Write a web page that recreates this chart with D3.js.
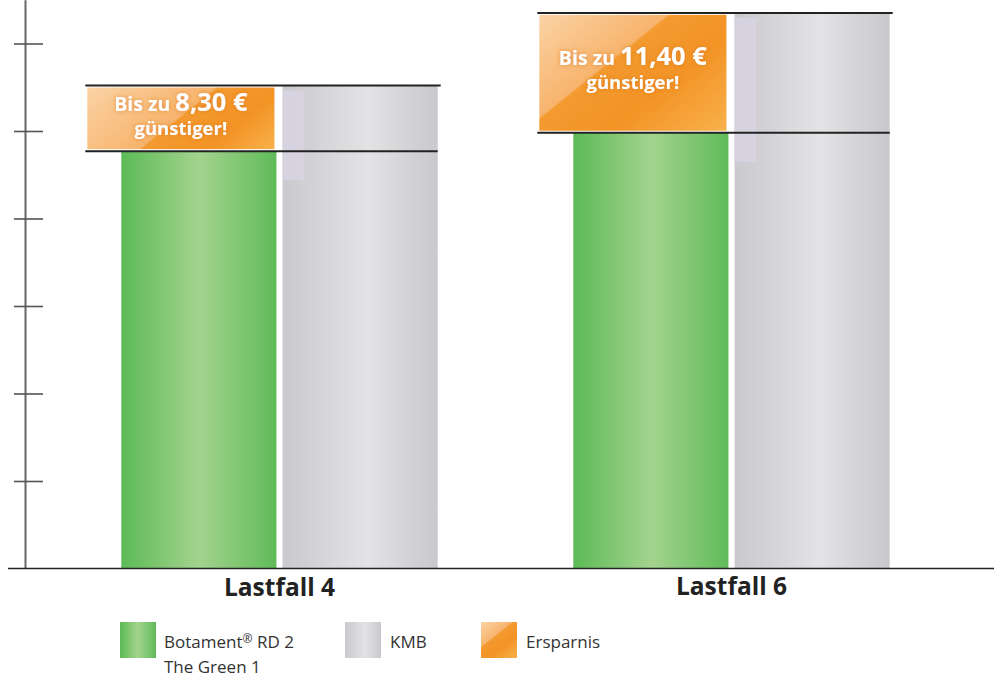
<!DOCTYPE html>
<html>
<head>
<meta charset="utf-8">
<script src="https://cdn.jsdelivr.net/npm/d3@7"></script>
<style>
  body { margin: 0; background: #fff; }
  svg { display: block; font-family: "Open Sans", "Noto Sans", sans-serif; }
</style>
</head>
<body>
<div id="chart"></div>
<script>
// chart values (units: axis ticks, no labels on the axis)
var categories = ["Lastfall 4", "Lastfall 6"];
var greenValues = [4.77, 4.98];   // Botament RD 2 The Green 1
var grayValues = [5.52, 6.35];    // KMB
var savingLabels = ["8,30", "11,40"];
var yTicks = [1, 2, 3, 4, 5, 6];
var legendLabels = [["Botament", "® RD 2", "The Green 1"], ["KMB"], ["Ersparnis"]];

var W = 994, H = 677;
var svg = d3.select("#chart").append("svg")
	.attr("width", W)
	.attr("height", H);
var defs = svg.append("defs");

// scales
var y = d3.scaleLinear().domain([0, 6.5]).range([568.5, -0.25]);
var x0 = d3.scaleBand().domain(categories).range([53.5, 957.5]).paddingInner(0.3).paddingOuter(0.15);
var x1 = d3.scaleBand().domain(["green", "gray"]).range([0, x0.bandwidth()]).paddingInner(0.038);

// gradients
function hGrad(id, stops) {
	var g = defs.append("linearGradient").attr("id", id)
		.attr("x1", 0).attr("y1", 0).attr("x2", 1).attr("y2", 0);
	stops.forEach(function(s) {
		g.append("stop").attr("offset", s[0]).attr("stop-color", s[1]);
	});
}
hGrad("gGreen", [[0, "#5cba56"], [0.5, "#a3d38e"], [1, "#60bb59"]]);
hGrad("gGray", [[0, "#c9c9ce"], [0.55, "#e3e3e5"], [1, "#c8c8cd"]]);

// glossy orange, light corner cut off by a diagonal edge
// (coordinates are in the local space of the element using it)
function orangeGrad(id, bx, by, bw, bh, edge) {
	var nx = 0.625, ny = 0.78;
	var L = bw * nx + bh * ny;
	var t = edge / L;
	var g = defs.append("linearGradient").attr("id", id)
		.attr("gradientUnits", "userSpaceOnUse")
		.attr("x1", bx).attr("y1", by)
		.attr("x2", bx + L * nx).attr("y2", by + L * ny);
	[[0, "#fbd3a5"], [t - 0.01, "#f7b46d"], [t, "#f39a30"], [Math.min(0.95, t + 0.25), "#f39326"], [1, "#f8b14a"]]
		.forEach(function(s) {
			g.append("stop").attr("offset", s[0]).attr("stop-color", s[1]);
		});
}

var shadow = defs.append("filter").attr("id", "txtShadow")
	.attr("x", "-20%").attr("y", "-40%").attr("width", "140%").attr("height", "180%");
shadow.append("feDropShadow").attr("dx", 0).attr("dy", 0).attr("stdDeviation", 2.5)
	.attr("flood-color", "#d9761a").attr("flood-opacity", 0.7);

// y axis, no labels
var yAxis = d3.axisLeft(y).tickValues(yTicks).tickFormat("").tickSizeOuter(0);
var ga = svg.append("g").attr("transform", "translate(25,0)").call(yAxis);
ga.select(".domain").attr("stroke", "#666").attr("stroke-width", 2);
ga.selectAll(".tick line").attr("x1", -11).attr("x2", 18)
	.attr("stroke", "#555").attr("stroke-width", 1.6);

// bars
var groups = svg.selectAll("g.group")
	.data(categories)
	.enter().append("g")
	.attr("class", "group")
	.attr("transform", function(d) { return "translate(" + x0(d) + ",0)"; });

groups.append("rect")
	.attr("x", x1("green"))
	.attr("y", function(d, i) { return y(greenValues[i]); })
	.attr("width", x1.bandwidth())
	.attr("height", function(d, i) { return y(0) - y(greenValues[i]); })
	.attr("fill", "url(#gGreen)");

groups.append("rect")
	.attr("x", x1("gray"))
	.attr("y", function(d, i) { return y(grayValues[i]); })
	.attr("width", x1.bandwidth())
	.attr("height", function(d, i) { return y(0) - y(grayValues[i]); })
	.attr("fill", "url(#gGray)");

// faint lavender strip at the left of the KMB bar
groups.append("rect")
	.attr("x", x1("gray"))
	.attr("y", function(d, i) { return y(grayValues[i]) + 5; })
	.attr("width", 22)
	.attr("height", function(d, i) { return y(greenValues[i]) - y(grayValues[i]) + 24; })
	.attr("fill", "#d8d3e0")
	.attr("opacity", 0.9);

// saving boxes
groups.each(function(d, i) {
	var g = d3.select(this);
	var gx = x1("green"), bw = x1.bandwidth();
	var top = y(grayValues[i]), bot = y(greenValues[i]);
	var bx = gx - 34, bwid = bw + 32, by = top + 2, bh = bot - top - 4;
	var id = "gOrange" + i;
	orangeGrad(id, bx, by, bwid, bh, 82);

	g.append("rect")
		.attr("x", bx).attr("y", by)
		.attr("width", bwid).attr("height", bh)
		.attr("fill", "url(#" + id + ")");

	g.append("line")
		.attr("x1", gx - 36).attr("x2", x1("gray") + bw + 3)
		.attr("y1", top).attr("y2", top)
		.attr("stroke", "#222").attr("stroke-width", 2);
	g.append("line")
		.attr("x1", gx - 36).attr("x2", x1("gray") + bw)
		.attr("y1", bot).attr("y2", bot)
		.attr("stroke", "#222").attr("stroke-width", 2);

	var cx = bx + bwid / 2, cy = (top + bot) / 2;
	var t1 = g.append("text")
		.attr("x", cx).attr("y", cy - 7.5)
		.attr("text-anchor", "middle")
		.attr("fill", "#fff").attr("font-weight", 700)
		.attr("filter", "url(#txtShadow)");
	t1.append("tspan").attr("font-size", 19.5).text("Bis zu ");
	t1.append("tspan").attr("font-size", 25.5).text(savingLabels[i] + " €");
	g.append("text")
		.attr("x", cx).attr("y", cy + 16.5)
		.attr("text-anchor", "middle")
		.attr("fill", "#fff").attr("font-weight", 700)
		.attr("font-size", 18.5)
		.attr("filter", "url(#txtShadow)")
		.text("günstiger!");
});

// x baseline
svg.append("line")
	.attr("x1", 8).attr("x2", W)
	.attr("y1", y(0)).attr("y2", y(0))
	.attr("stroke", "#222").attr("stroke-width", 1.5);

// category labels
svg.selectAll("text.cat")
	.data(categories)
	.enter().append("text")
	.attr("class", "cat")
	.attr("x", function(d) { return x0(d) + x0.bandwidth() / 2; })
	.attr("y", function(d, i) { return i == 0 ? 596 : 594.5; })
	.attr("text-anchor", "middle")
	.attr("font-size", 24.5)
	.attr("font-weight", 700)
	.attr("fill", "#222")
	.text(function(d) { return d; });

// legend
var legendX = [120, 345, 481];
var legend = svg.selectAll("g.legend")
	.data(legendLabels)
	.enter().append("g")
	.attr("class", "legend")
	.attr("transform", function(d, i) { return "translate(" + legendX[i] + ",622)"; });

orangeGrad("gOrangeLeg", 0, 0, 36, 36, 20);
var swatchFill = ["url(#gGreen)", "url(#gGray)", "url(#gOrangeLeg)"];
legend.append("rect")
	.attr("width", 36).attr("height", 36)
	.attr("fill", function(d, i) { return swatchFill[i]; });

legend.each(function(d, i) {
	var g = d3.select(this);
	var t = g.append("text")
		.attr("x", i == 0 ? 44 : 45)
		.attr("y", 26)
		.attr("font-size", 17)
		.attr("fill", "#333");
	if (d.length > 1) {
		t.append("tspan").text(d[0]);
		t.append("tspan").attr("font-size", 12).attr("dy", -5).text("®");
		t.append("tspan").attr("dy", 5).text(d[1].slice(1));
		g.append("text")
			.attr("x", 44).attr("y", 51)
			.attr("font-size", 17)
			.attr("fill", "#333")
			.text(d[2]);
	} else {
		t.text(d[0]);
	}
});
</script>
</body>
</html>
